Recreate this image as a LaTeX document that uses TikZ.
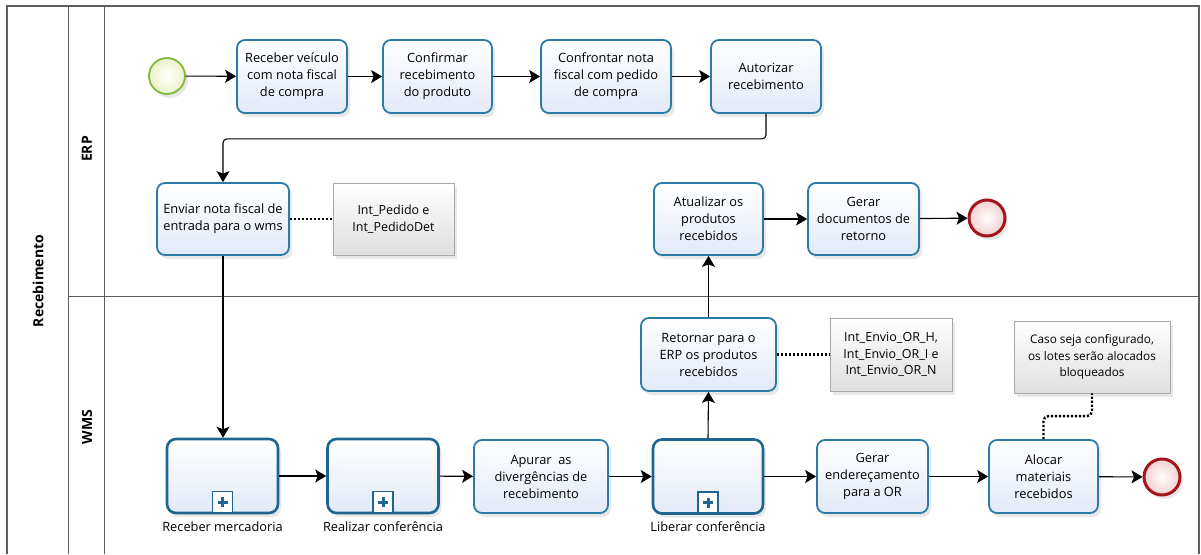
\documentclass[tikz,border=0pt]{standalone}
\usepackage{fontspec}
\setmainfont{Open Sans}
\usetikzlibrary{arrows.meta,shadows}
\definecolor{taskborder}{HTML}{2B7BA6}
\definecolor{taskfill}{HTML}{E2EAF7}
\definecolor{subborder}{HTML}{1C6690}
\definecolor{startborder}{HTML}{82B83E}
\definecolor{startfill}{HTML}{EAF4C6}
\definecolor{endborder}{HTML}{A3161C}
\definecolor{endfill}{HTML}{F3CFCF}
\definecolor{annborder}{HTML}{A8A8A8}
\definecolor{frameline}{HTML}{5E5E5E}
\begin{document}
\begin{tikzpicture}[x=1pt,y=1pt,
  shad/.style={drop shadow={opacity=0.18,shadow xshift=3pt,shadow yshift=-4pt}},
  taskbox/.style={draw=taskborder,line width=1.8pt,rounded corners=8pt,top color=white,bottom color=taskfill,
    align=center,inner sep=0pt,minimum height=73pt,font=\fontsize{12.8}{17}\selectfont,shad},
  subbox/.style={draw=subborder,line width=2.6pt,rounded corners=9pt,top color=white,bottom color=taskfill,
    inner sep=0pt,minimum height=74pt,minimum width=111pt,shad},
  plusbox/.style={draw=subborder,line width=1.6pt,fill=white,minimum width=20pt,minimum height=21pt,inner sep=0pt,
    path picture={\fill[subborder] ([xshift=-5pt,yshift=-1.5pt]path picture bounding box.center) rectangle ([xshift=5pt,yshift=1.5pt]path picture bounding box.center);
                  \fill[subborder] ([xshift=-1.5pt,yshift=-5pt]path picture bounding box.center) rectangle ([xshift=1.5pt,yshift=5pt]path picture bounding box.center);}},
  annbox/.style={draw=annborder,line width=0.8pt,top color=white,bottom color=gray!25,align=center,inner sep=0pt,
    minimum height=72pt,font=\fontsize{12.5}{16.5}\selectfont,shad},
  startev/.style={circle,draw=startborder,line width=1.8pt,inner color=white,outer color=startfill,minimum size=36pt,inner sep=0pt,shad},
  endev/.style={circle,draw=endborder,line width=3pt,inner color=white,outer color=endfill,minimum size=36pt,inner sep=0pt,shad},
  flow/.style={line width=1.1pt,-{Stealth[length=11pt,width=13pt,inset=2.5pt]}},
  assoc/.style={line width=2.4pt,dash pattern=on 2.2pt off 1.8pt},
  lbl/.style={font=\fontsize{12.8}{15}\selectfont},
  lane/.style={font=\bfseries\fontsize{14}{16}\selectfont,rotate=90}
]
\useasboundingbox (0,0) rectangle (1201,-554);
% frame
\draw[frameline,line width=1.3pt] (7,-554) -- (7,-6) -- (1199,-6) -- (1199,-554);
\draw[frameline,line width=1pt] (68,-6) -- (68,-554);
\draw[frameline,line width=1pt] (104,-6) -- (104,-554);
\draw[frameline,line width=1pt] (68,-296) -- (1199,-296);
\node[lane] (pool) at (38,-281) {Recebimento};
\node[lane] (erp) at (87,-149) {ERP};
\node[lane] (wms) at (87,-427) {WMS};
% ERP lane
\node[startev] (start) at (167,-76) {};
\node[taskbox,minimum width=110pt] (t1) at (292,-76.5) {Receber veículo\\com nota fiscal\\de compra};
\node[taskbox,minimum width=109pt] (t2) at (437.5,-76.5) {Confirmar\\recebimento\\do produto};
\node[taskbox,minimum width=130pt] (t3) at (606,-76.5) {Confrontar nota\\fiscal com pedido\\de compra};
\node[taskbox,minimum width=110pt] (t4) at (766,-76.5) {Autorizar\\recebimento};
\node[taskbox,minimum width=132pt,minimum height=72pt] (env) at (223,-219) {Enviar nota fiscal de\\entrada para o wms};
\node[annbox,minimum width=121pt] (a1) at (393.5,-219) {Int\_Pedido e\\Int\_PedidoDet};
\node[taskbox,minimum width=109pt,minimum height=72pt] (atu) at (708.5,-219) {Atualizar os\\produtos\\recebidos};
\node[taskbox,minimum width=111pt,minimum height=72pt] (gdoc) at (863.5,-219) {Gerar\\documentos de\\retorno};
\node[endev] (end1) at (987,-218) {};
% WMS lane
\node[taskbox,minimum width=135pt] (ret) at (708.5,-354.5) {Retornar para o\\ERP os produtos\\recebidos};
\node[annbox,minimum width=122pt,minimum height=73pt] (a2) at (891,-354.5) {Int\_Envio\_OR\_H,\\Int\_Envio\_OR\_I e\\Int\_Envio\_OR\_N};
\node[annbox,minimum width=156pt,font=\fontsize{11.8}{16.5}\selectfont] (a3) at (1092,-357) {Caso seja configurado,\\os lotes serão alocados\\bloqueados};
\node[subbox] (rm) at (222.5,-476) {};
\node[plusbox,anchor=south] (rmp) at ([yshift=1pt]rm.south) {};
\node[lbl] (rml) at (222.5,-527) {Receber mercadoria};
\node[subbox] (rc) at (383,-476) {};
\node[plusbox,anchor=south] (rcp) at ([yshift=1pt]rc.south) {};
\node[lbl] (rcl) at (383,-527) {Realizar conferência};
\node[taskbox,minimum width=134pt] (apu) at (541,-476.5) {Apurar\ \ as\\divergências de\\recebimento};
\node[subbox,minimum width=110pt] (lib) at (708,-476.5) {};
\node[plusbox,anchor=south] (libp) at ([yshift=1pt]lib.south) {};
\node[lbl] (libl) at (708,-527) {Liberar conferência};
\node[taskbox,minimum width=111pt] (gend) at (872.5,-476.5) {Gerar\\endereçamento\\para a OR};
\node[taskbox,minimum width=109pt] (alo) at (1043.5,-476.5) {Alocar\\materiais\\recebidos};
\node[endev] (end2) at (1162,-477) {};
% flows
\draw[flow] (start) -- (t1);
\draw[flow] (t1) -- (t2);
\draw[flow] (t2) -- (t3);
\draw[flow] (t3) -- (t4);
\draw[flow,rounded corners=4pt] (t4.south) -- ++(0,-25) -| (env.north);
\draw[flow] (env.south) -- (env.south |- rm.north);
\draw[flow] (rm) -- (rc);
\draw[flow] (rc) -- (apu);
\draw[flow] (apu) -- (lib);
\draw[flow] (lib) -- (gend);
\draw[flow] (gend) -- (alo);
\draw[flow] (alo) -- (end2);
\draw[flow] (lib.north) -- (ret.south);
\draw[flow] (ret.north) -- (atu.south);
\draw[flow] (atu) -- (gdoc);
\draw[flow] (gdoc) -- (end1);
% associations
\draw[assoc] (env) -- (a1);
\draw[assoc] (ret) -- (a2);
\draw[assoc,rounded corners=5pt] (alo.north) -- ++(0,23) -| (a3.south);
\end{tikzpicture}
\end{document}
